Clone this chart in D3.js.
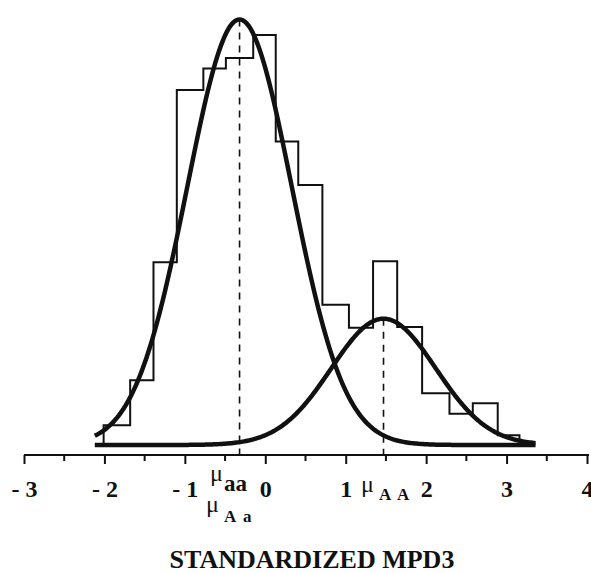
<!DOCTYPE html>
<html>
<head>
<meta charset="utf-8">
<script src="https://cdn.jsdelivr.net/npm/d3@7"></script>
<style>
  body { margin: 0; background: #fff; }
  svg { display: block; }
  text { font-family: "Liberation Serif", "Times New Roman", serif; fill: #111; }
</style>
</head>
<body>
<svg id="chart"></svg>
<script>
const WIDTH = 591;
const HEIGHT = 573;
const xAxisLabel = "STANDARDIZED MPD3";

// histogram of the standardized values (bin edges, then bar heights as proportions)
const binEdges = [-2.01, -1.68, -1.39, -1.10, -0.77, -0.49, -0.15, 0.13, 0.41, 0.71,
                  1.04, 1.34, 1.64, 1.95, 2.29, 2.58, 2.89, 3.16];
const binHeights = [0.024, 0.079, 0.223, 0.433, 0.459, 0.472, 0.500, 0.370, 0.317,
                    0.171, 0.143, 0.224, 0.144, 0.063, 0.038, 0.051, 0.012];

// fitted normal components: aa (= Aa) and AA
const compNames = ["aa", "AA"];
const compMeans = [-0.32, 1.47];
const compSds = [0.65, 0.65];
const compPeaks = [0.519, 0.154];
const curveRange = [-2.12, 3.36];

const majorTicks = [-3, -2, -1, 0, 1, 2, 3, 4];
const minorTicks = [-2.5, -1.5, -0.5, 0.5, 1.5, 2.5, 3.5];

const svg = d3.select("#chart")
    .attr("width", WIDTH)
    .attr("height", HEIGHT);

const x = d3.scaleLinear().domain([-3, 4]).range([24, 587]);
// baseline of the curves sits a bit above the axis line
const y = d3.scaleLinear().domain([0, 0.5]).range([445, 35]);
const axisY = 455;

// histogram outline as a step path
const histPoints = [[binEdges[0], 0]];
binHeights.forEach((h, i) => {
    histPoints.push([binEdges[i], h]);
    histPoints.push([binEdges[i + 1], h]);
});
histPoints.push([binEdges[binEdges.length - 1], 0]);

const line = d3.line()
    .x(d => x(d[0]))
    .y(d => y(d[1]));

svg.append("path")
    .attr("d", line(histPoints))
    .attr("fill", "none")
    .attr("stroke", "#111")
    .attr("stroke-width", 2)
    .attr("stroke-linejoin", "miter");

// dashed lines at the component means
svg.selectAll(".mean-line")
    .data(compMeans)
    .enter()
    .append("line")
    .attr("class", "mean-line")
    .attr("x1", d => x(d))
    .attr("x2", d => x(d))
    .attr("y1", (d, i) => y(compPeaks[i]))
    .attr("y2", axisY + 2)
    .attr("stroke", "#111")
    .attr("stroke-width", 1.6)
    .attr("stroke-dasharray", "7,6");

// normal curves
const xs = d3.range(curveRange[0], curveRange[1] + 0.001, 0.02);
compMeans.forEach((mu, i) => {
    const pts = xs.map(v => {
        const z = (v - mu) / compSds[i];
        return [v, compPeaks[i] * Math.exp(-0.5 * z * z)];
    });
    svg.append("path")
        .attr("d", line(pts))
        .attr("fill", "none")
        .attr("stroke", "#111")
        .attr("stroke-width", 4.5)
        .attr("stroke-linecap", "butt");
});

// axis
const axisG = svg.append("g")
    .attr("transform", `translate(0, ${axisY})`)
    .call(d3.axisBottom(x)
        .tickValues(majorTicks)
        .tickSize(9)
        .tickSizeOuter(0)
        .tickFormat(d => d < 0 ? "- " + (-d) : d));

axisG.select(".domain")
    .attr("stroke", "#111")
    .attr("stroke-width", 2)
    .attr("d", `M${x(-3)},0H${x(4) + 2}`);
axisG.selectAll(".tick line")
    .attr("stroke", "#111")
    .attr("stroke-width", 2);
axisG.selectAll(".tick text")
    .attr("y", 42)
    .attr("dy", null)
    .style("font-family", "Liberation Serif")
    .style("font-size", "24px")
    .style("font-weight", "bold")
    .attr("fill", "#111");

svg.append("g")
    .attr("transform", `translate(0, ${axisY})`)
    .selectAll("line")
    .data(minorTicks)
    .enter()
    .append("line")
    .attr("x1", d => x(d))
    .attr("x2", d => x(d))
    .attr("y1", 0)
    .attr("y2", 6)
    .attr("stroke", "#111")
    .attr("stroke-width", 2);

// mean labels
const muLabel = (mx, my, subs, subY, subSize) => {
    const t = svg.append("text");
    t.append("tspan")
        .attr("x", mx)
        .attr("y", my)
        .style("font-size", "24px")
        .text("\u03bc");
    subs.forEach(s => {
        t.append("tspan")
            .attr("x", s[1])
            .attr("y", subY)
            .style("font-size", subSize)
            .style("font-weight", "bold")
            .text(s[0]);
    });
};
muLabel(210, 481, [["aa", 224]], 491, "23px");
muLabel(206, 512, [["A", 224], ["a", 243]], 522, "17px");
muLabel(361, 492, [["A", 379], ["A", 397]], 500, "17px");

// axis title
svg.append("text")
    .attr("x", 312)
    .attr("y", 568)
    .attr("text-anchor", "middle")
    .style("font-size", "26px")
    .style("font-weight", "bold")
    .text(xAxisLabel);
</script>
</body>
</html>
